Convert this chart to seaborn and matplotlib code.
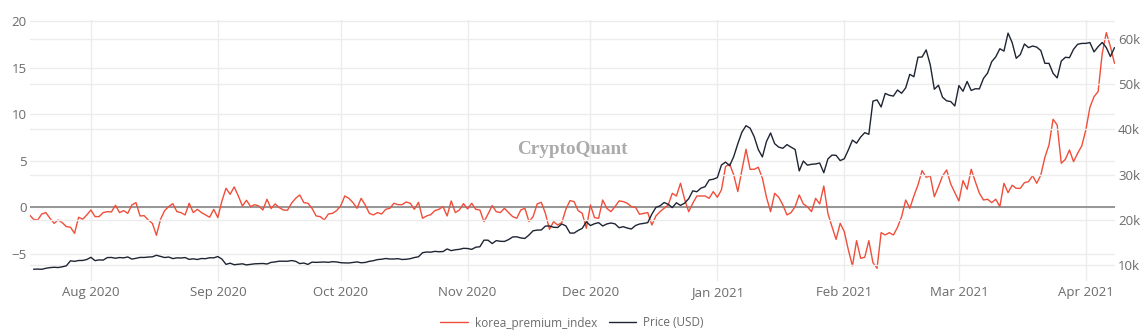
import numpy as np
import pandas as pd
import matplotlib
matplotlib.use("Agg")
import matplotlib.pyplot as plt
import matplotlib.dates as mdates
from matplotlib.ticker import FixedLocator, FuncFormatter
import seaborn as sns

# ---------------- data ----------------
start_date = "2020-07-17"
end_date = "2021-04-08"
dates = pd.date_range(start_date, end_date, freq="D")

korea_premium_index = [
    # Jul 17 - Aug 24
    -0.80, -1.27, -1.34, -0.70, -0.55, -1.16, -1.70, -1.34, -1.63, -2.05,
    -2.12, -2.77, -1.05, -1.27, -0.80, -0.27, -0.98, -0.98, -0.55, -0.45,
    -0.48, 0.23, -0.55, -0.34, -0.63, 0.27, 0.52, -0.91, -0.88, -1.34,
    -1.70, -2.98, -1.27, -0.34, 0.09, 0.41, -0.45, -0.55, -0.80,
    # Aug 25 - Oct 1
    0.45, -0.55, -0.20, -0.55, -0.80, -1.05, -0.20, -1.09, 0.70, 2.06,
    1.41, 2.20, 1.23, 0.16, 0.77, 0.09, 0.30, 0.16, -0.27, 0.88,
    -0.12, 0.38, -0.02, -0.27, -0.30, 0.45, 0.98, 1.34, 0.52, 0.45,
    -0.09, -0.91, -0.98, -1.34, -0.70, -0.63, -0.34, 0.16,
    # Oct 2 - Nov 7
    1.23, 0.98, 0.52, -0.09, 0.98, 0.27, -0.63, -0.80, -0.55, -0.70,
    -0.20, -0.09, 0.45, 0.30, 0.30, 0.59, 0.45, -0.20, 0.55, -1.16,
    -0.91, -0.77, -0.34, -0.20, 0.09, -0.91, 0.70, -0.55, -0.27, 0.41,
    -0.16, 0.45, -0.20, -0.27, -1.52, -0.70, 0.20,
    # Nov 8 - Dec 15
    -0.45, -0.55, -0.09, -0.55, -0.98, -1.16, -0.27, -0.09, -1.52, -0.98,
    0.38, 0.55, -0.63, -2.34, -1.52, -1.88, -1.63, -0.20, 0.73, 0.63,
    -0.34, -0.63, -2.23, 0.27, -1.09, -1.16, 0.80, -0.09, -0.45, 0.09,
    0.70, 0.63, 0.45, 0.09, 0.02, -0.73, -0.63, -0.55,
    # Dec 16 - Jan 21
    -1.88, -0.91, -0.45, -0.09, 0.27, 1.52, 1.23, 2.59, 0.88, -0.45,
    0.45, 1.23, 1.23, 1.23, 0.98, 1.70, 1.09, 1.88, 4.38, 4.66,
    3.49, 1.70, 4.02, 6.24, 4.09, 4.09, 4.31, 3.13, 1.09, -0.45,
    1.52, 1.09, 0.27, -0.80, -0.55, 0.09, 1.34,
    # Jan 22 - Feb 28
    0.38, 0.07, -0.45, 0.98, 0.38, 2.30, -0.63, -2.06, -3.42, -1.70,
    -2.59, -4.56, -6.27, -3.56, -5.45, -5.34, -3.56, -5.91, -6.52, -2.70,
    -2.95, -2.70, -2.95, -2.13, -0.98, 0.80, -0.09, 1.23, 2.41, 3.95,
    3.24, 3.38, 1.16, 2.23, 3.38, 4.02, 2.52, 1.59,
    # Mar 1 - Apr 8
    0.70, 2.88, 1.95, 4.09, 2.77, 1.52, 0.80, 0.88, 0.52, 0.88,
    0.09, 2.59, 1.59, 2.38, 2.05, 2.05, 2.66, 2.77, 3.41, 2.59,
    3.48, 5.38, 6.70, 9.45, 8.84, 4.74, 5.16, 6.16, 4.91, 5.81,
    6.59, 8.31, 10.74, 11.88, 12.42, 16.50, 18.74, 17.24, 15.45,
]

price_usd_k = [
    # Jul 17 - Aug 24
    np.nan, 9.17, 9.21, 9.16, 9.39, 9.53, 9.61, 9.55, 9.71, 9.93,
    11.03, 10.91, 11.10, 11.11, 11.32, 11.80, 11.07, 11.23, 11.19, 11.74,
    11.77, 11.60, 11.75, 11.68, 11.88, 11.41, 11.58, 11.78, 11.77, 11.86,
    11.91, 12.25, 11.99, 11.75, 11.86, 11.52, 11.68, 11.65, 11.75,
    # Aug 25 - Oct 1
    11.35, 11.47, 11.32, 11.54, 11.50, 11.71, 11.68, 11.97, 11.41, 10.25,
    10.51, 10.17, 10.28, 10.37, 10.13, 10.24, 10.37, 10.40, 10.44, 10.33,
    10.68, 10.79, 10.95, 10.94, 10.93, 11.09, 10.92, 10.42, 10.54, 10.24,
    10.74, 10.69, 10.73, 10.77, 10.70, 10.84, 10.78, 10.62,
    # Oct 2 - Nov 7
    10.57, 10.55, 10.67, 10.79, 10.60, 10.67, 10.92, 11.06, 11.30, 11.38,
    11.54, 11.43, 11.43, 11.50, 11.32, 11.37, 11.50, 11.75, 11.92, 12.82,
    12.97, 12.93, 13.11, 13.03, 13.07, 13.64, 13.27, 13.46, 13.56, 13.78,
    13.74, 13.55, 14.03, 14.13, 15.58, 15.57, 14.83,
    # Nov 8 - Dec 31
    15.48, 15.33, 15.30, 15.70, 16.28, 16.32, 16.07, 15.96, 16.72, 17.65,
    17.80, 17.82, 18.68, 18.71, 18.42, 18.37, 19.15, 18.72, 17.15, 17.14,
    17.72, 18.18, 19.63, 18.80, 19.20, 19.44, 18.70, 19.15, 19.36, 19.17,
    18.32, 18.55, 18.25, 18.04, 18.80, 19.14, 19.27, 19.44, 21.31, 22.80,
    23.14, 23.87, 23.48, 22.75, 23.82, 23.24, 23.73, 24.71, 26.44, 26.25,
    27.04, 27.36, 28.84, 29.00,
    # Jan 2021
    29.37, 32.13, 32.78, 31.97, 33.99, 36.82, 39.37, 40.80, 40.25, 38.36,
    35.54, 33.91, 37.32, 39.19, 36.83, 36.07, 35.82, 36.63, 36.07, 35.55,
    30.83, 33.01, 32.10, 32.29, 32.37, 32.57, 30.43, 33.47, 34.32, 34.27,
    33.11,
    # Feb 2021
    33.51, 35.47, 37.62, 36.94, 38.29, 39.26, 38.90, 46.20, 46.48, 44.92,
    47.91, 47.50, 47.32, 48.66, 47.94, 49.13, 52.11, 51.58, 55.89, 55.92,
    57.49, 54.21, 48.82, 49.71, 47.06, 46.28, 46.11, 45.14,
    # Mar 2021
    49.63, 48.38, 50.54, 48.56, 48.93, 48.91, 51.21, 52.38, 54.88, 55.96,
    57.75, 57.23, 61.19, 59.12, 55.64, 56.47, 58.79, 57.99, 58.35, 58.11,
    57.35, 54.53, 54.53, 52.33, 51.32, 55.03, 55.86, 55.78, 57.63, 58.73,
    58.92,
    # Apr 2021
    58.93, 59.10, 57.05, 58.20, 59.13, 57.99, 56.03, 58.00,
]

left_ticks = [-5, 0, 5, 10, 15, 20]
right_ticks = [10, 20, 30, 40, 50, 60]
series_names = ["korea_premium_index", "Price (USD)"]

assert len(korea_premium_index) == len(dates), len(korea_premium_index)
assert len(price_usd_k) == len(dates), len(price_usd_k)

df = pd.DataFrame({"date": dates,
                   "kpi": korea_premium_index,
                   "price": price_usd_k})

# ---------------- style ----------------
sns.set_theme(style="white")
plt.rcParams["font.family"] = ["Open Sans", "DejaVu Sans"]

RED = "#F04E3A"
DARK = "#1E2532"
GRID = "#ECECEC"
TXT = "#6B6B6B"

fig = plt.figure(figsize=(11.44, 3.36), dpi=100)
W, H = 1144, 336
left_px, right_px, top_px, bot_px = 29.5, 1114.5, 20.4, 280.7
ax = fig.add_axes([left_px / W, 1 - bot_px / H,
                   (right_px - left_px) / W, (bot_px - top_px) / H])
ax2 = ax.twinx()

sns.lineplot(data=df, x="date", y="kpi", ax=ax, color=RED,
             linewidth=1.0, legend=False, label=series_names[0])
sns.lineplot(data=df.dropna(), x="date", y="price", ax=ax2, color=DARK,
             linewidth=1.0, legend=False, label=series_names[1])

ax.axhline(0, color="#8E8E8E", linewidth=1.3, zorder=1.5)

ax.set_xlim(dates[0], dates[-1])
ax.set_ylim(-7.85, 20.05)
ax2.set_ylim(6.65, 63.99)

ax.yaxis.set_major_locator(FixedLocator(left_ticks))
ax2.yaxis.set_major_locator(FixedLocator(right_ticks))
ax2.yaxis.set_major_formatter(FuncFormatter(lambda v, p: f"{int(v)}k"))
ax.yaxis.set_major_formatter(FuncFormatter(lambda v, p: f"{int(v)}".replace("-", "\u2212")))

ax.xaxis.set_major_locator(mdates.MonthLocator())
ax.xaxis.set_major_formatter(mdates.DateFormatter("%b %Y"))

for a in (ax, ax2):
    a.set_xlabel("")
    a.set_ylabel("")
    for s in a.spines.values():
        s.set_visible(False)
    a.tick_params(length=0, labelsize=9.5, colors=TXT)
    a.set_facecolor("none")

ax.tick_params(axis="y", pad=2)
ax2.tick_params(axis="y", pad=2.5)
ax.tick_params(axis="x", pad=4)

ax.grid(True, axis="both", color=GRID, linewidth=1.0)
ax2.grid(True, axis="y", color=GRID, linewidth=1.0)
ax.set_axisbelow(True)
ax2.set_axisbelow(True)

# watermark
fig.text(572 / W, 1 - 150 / H, "CryptoQuant", ha="center", va="center",
         fontsize=13.8, fontweight="bold", color="#ABABAB",
         family=["Liberation Serif", "DejaVu Serif"])

handles = [ax.get_lines()[0], ax2.get_lines()[0]]
leg = fig.legend(handles, series_names, loc="center",
                 bbox_to_anchor=(572 / W, 1 - 323 / H), ncol=2,
                 frameon=False, fontsize=8.5, handlelength=2.3,
                 handletextpad=0.6, columnspacing=1.0)
for t in leg.get_texts():
    t.set_color(TXT)

fig.savefig("out.png", dpi=100, facecolor="white")
